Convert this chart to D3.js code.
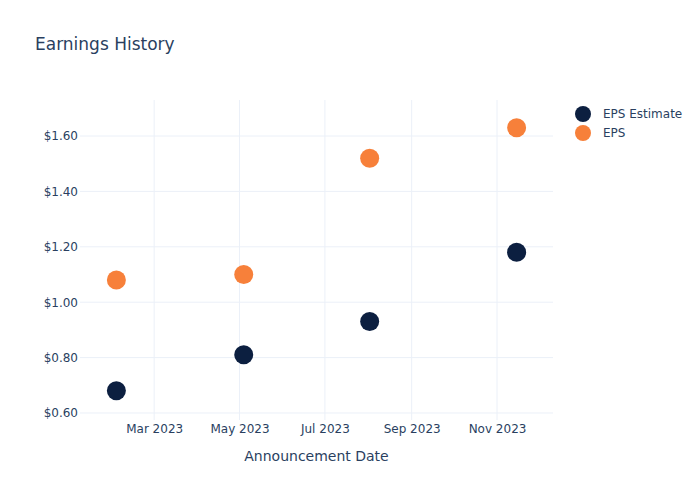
<!DOCTYPE html>
<html>
  <head>
    <meta charset="utf-8" />
    <title>Earnings History</title>
    <style>
      body { margin: 0; background: #fff; }
      text { font-family: "DejaVu Sans", sans-serif; fill: #2a3f5f; }
    </style>
  </head>
  <body>
    <script src="https://cdn.jsdelivr.net/npm/d3@7/dist/d3.min.js"></script>
    <script>
      const dates = ["2023-02-02", "2023-05-04", "2023-08-02", "2023-11-15"];
      const epsEstimate = [0.68, 0.81, 0.93, 1.18];
      const eps = [1.08, 1.10, 1.52, 1.63];
      const yTicks = [0.6, 0.8, 1.0, 1.2, 1.4, 1.6];
      const xTicks = ["2023-03-01", "2023-05-01", "2023-07-01", "2023-09-01", "2023-11-01"];
      const seriesNames = ["EPS Estimate", "EPS"];
      const colors = ["#0c1f40", "#f7803a"];

      const width = 700;
      const height = 500;
      const margin = { top: 100, right: 147, bottom: 80, left: 80 };
      const parse = d3.utcParse("%Y-%m-%d");

      const svg = d3
        .select("body")
        .append("svg")
        .attr("width", width)
        .attr("height", height);

      const x = d3
        .scaleUtc()
        .domain([parse("2023-01-07"), parse("2023-12-11")])
        .range([margin.left, width - margin.right]);

      const y = d3
        .scaleLinear()
        .domain([0.5747, 1.73])
        .range([height - margin.bottom, margin.top]);

      // grid
      svg
        .append("g")
        .selectAll("line")
        .data(xTicks)
        .join("line")
        .attr("x1", d => x(parse(d)))
        .attr("x2", d => x(parse(d)))
        .attr("y1", margin.top)
        .attr("y2", height - margin.bottom)
        .attr("stroke", "#ebf0f8");

      svg
        .append("g")
        .selectAll("line")
        .data(yTicks)
        .join("line")
        .attr("x1", margin.left)
        .attr("x2", width - margin.right)
        .attr("y1", d => y(d))
        .attr("y2", d => y(d))
        .attr("stroke", "#ebf0f8");

      // axes
      const xAxis = svg
        .append("g")
        .attr("transform", `translate(0,${height - margin.bottom})`)
        .call(
          d3.axisBottom(x)
            .tickValues(xTicks.map(parse))
            .tickFormat(d3.utcFormat("%b %Y"))
            .tickSize(0)
            .tickPadding(4)
        );
      xAxis.select(".domain").remove();
      xAxis.selectAll("text").attr("font-size", 12).style("font-family", "DejaVu Sans");

      const yAxis = svg
        .append("g")
        .attr("transform", `translate(${margin.left},0)`)
        .call(
          d3.axisLeft(y)
            .tickValues(yTicks)
            .tickFormat(d => "$" + d3.format(".2f")(d))
            .tickSize(0)
            .tickPadding(2)
        );
      yAxis.select(".domain").remove();
      yAxis.selectAll("text").attr("font-size", 12).style("font-family", "DejaVu Sans");

      // points
      [epsEstimate, eps].forEach((vals, i) => {
        svg
          .append("g")
          .selectAll("circle")
          .data(vals)
          .join("circle")
          .attr("cx", (d, j) => x(parse(dates[j])))
          .attr("cy", d => y(d))
          .attr("r", 9.5)
          .attr("fill", colors[i]);
      });

      // title
      svg
        .append("text")
        .attr("x", 35)
        .attr("y", 50)
        .attr("font-size", 17)
        .text("Earnings History");

      // x axis title
      svg
        .append("text")
        .attr("x", (margin.left + width - margin.right) / 2)
        .attr("y", 461)
        .attr("text-anchor", "middle")
        .attr("font-size", 14)
        .text("Announcement Date");

      // legend
      const legend = svg
        .append("g")
        .selectAll("g")
        .data(seriesNames)
        .join("g")
        .attr("transform", (d, i) => `translate(583,${114 + i * 19})`);
      legend
        .append("circle")
        .attr("r", 8)
        .attr("fill", (d, i) => colors[i]);
      legend
        .append("text")
        .attr("x", 20)
        .attr("dy", "0.35em")
        .attr("font-size", 12)
        .text(d => d);
    </script>
  </body>
</html>
